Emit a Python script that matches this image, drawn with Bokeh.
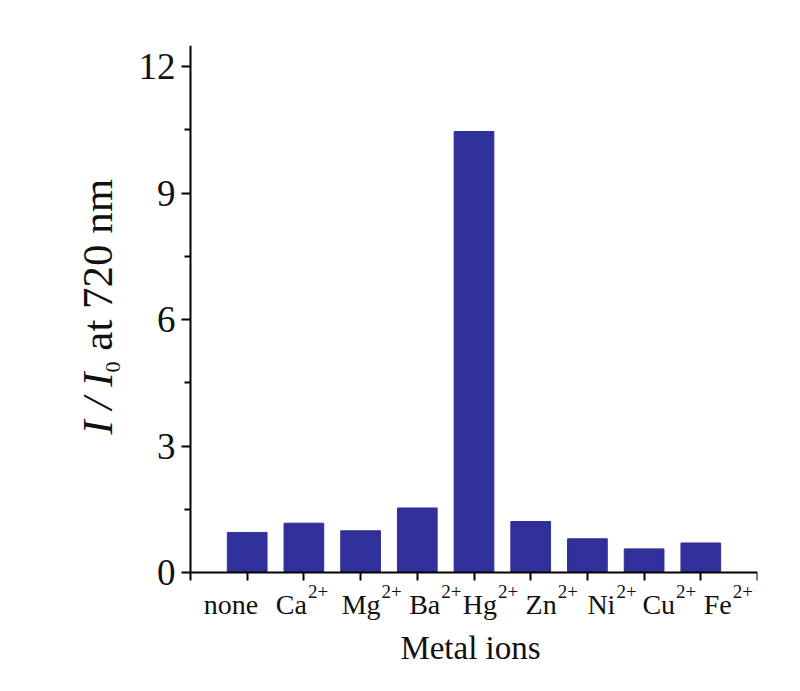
import math
from bokeh.plotting import figure
from bokeh.models import Range1d, FixedTicker, ColumnDataSource
from bokeh.core.properties import value
from bokeh.embed import file_html
from bokeh.resources import INLINE

# ---- data ----
ions = ["none", "Ca", "Mg", "Ba", "Hg", "Zn", "Ni", "Cu", "Fe"]
charges = ["", "2+", "2+", "2+", "2+", "2+", "2+", "2+", "2+"]
ratio = [0.95, 1.17, 0.99, 1.53, 10.46, 1.21, 0.80, 0.56, 0.70]
y_ticks = [0, 3, 6, 9, 12]
y_minor = [1.5, 4.5, 7.5, 10.5]
x_title = "Metal ions"

# ---- layout (pixels on the canvas) ----
W, H = 784, 675
AX_X0, AX_X1 = 190, 757      # pixel of x=0 and x=10
AX_Y0, AX_Y1 = 572, 45       # pixel of y=0 and y=12.5
FR_L, FR_B = 60, 671         # frame left / bottom
XMAX, YMAX = 10, 12.5
PXX = (AX_X1 - AX_X0) / XMAX
PXY = (AX_Y0 - AX_Y1) / YMAX


def dx(px):
    return (px - AX_X0) / PXX


def dy(px):
    return (AX_Y0 - px) / PXY


FONT = "Liberation Serif"
BAR = "#30309a"
TXT = "#111111"

p = figure(width=W, height=H, output_backend="svg", toolbar_location=None,
           x_range=Range1d(dx(FR_L), XMAX), y_range=Range1d(dy(FR_B), YMAX),
           min_border_left=FR_L, min_border_right=W - AX_X1,
           min_border_top=AX_Y1, min_border_bottom=H - FR_B)
p.outline_line_color = None
p.grid.visible = False
p.background_fill_color = "white"
p.border_fill_color = "white"

xs = list(range(1, len(ions) + 1))
p.vbar(x=xs, top=ratio, bottom=0, width=0.7, fill_color=BAR, line_color=BAR)

# x axis, pinned at y = 0
xa = p.xaxis[0]
xa.fixed_location = 0
xa.bounds = (0, XMAX)
xa.ticker = FixedTicker(ticks=list(range(0, XMAX + 1)), minor_ticks=[])
xa.major_label_text_font_size = "0px"
xa.major_label_standoff = 0
xa.major_tick_out = 8
xa.major_tick_in = 0
xa.minor_tick_out = 0
xa.minor_tick_in = 0
xa.axis_line_width = 2
xa.major_tick_line_width = 2

# y axis, pinned at x = 0
ya = p.yaxis[0]
ya.fixed_location = 0
ya.bounds = (0, YMAX)
ya.ticker = FixedTicker(ticks=y_ticks, minor_ticks=y_minor)
ya.major_label_text_font = FONT
ya.major_label_text_font_size = "37px"
ya.major_label_text_color = TXT
ya.major_label_standoff = 6
ya.major_tick_out = 9
ya.major_tick_in = 0
ya.minor_tick_out = 6
ya.minor_tick_in = 0
ya.axis_line_width = 2
ya.major_tick_line_width = 2
ya.minor_tick_line_width = 2

# x category labels (base + superscript), anchor offsets in px from bar center
label_dx = [11, 3, 20, 23, 23, 26, 28, 31, 31]
anchors = [xs[i] + label_dx[i] / PXX for i in range(len(ions))]
base_src = ColumnDataSource(dict(x=anchors, y=[dy(604)] * len(ions), t=ions))
p.text(x="x", y="y", text="t", source=base_src, text_align="right",
       text_baseline="alphabetic", text_font=value(FONT),
       text_font_size="28px", text_color=TXT)
sup_idx = [i for i, c in enumerate(charges) if c]
sup_src = ColumnDataSource(dict(x=[anchors[i] + 1 / PXX for i in sup_idx],
                                y=[dy(591)] * len(sup_idx),
                                t=[charges[i] for i in sup_idx]))
p.text(x="x", y="y", text="t", source=sup_src, text_align="left",
       text_baseline="alphabetic", text_font=value(FONT),
       text_font_size="19px", text_color=TXT)

# x title
p.text(x=[dx(470)], y=[dy(647)], text=[x_title], text_align="center",
       text_baseline="alphabetic", text_font=value(FONT),
       text_font_size="33px", text_color=TXT)

# y title: "I / I0 at 720 nm", rotated, built from pieces
YL_FS = 43
SUB_FS = 22
ang = math.pi / 2
start = 434
w1 = 1.444 * YL_FS
w2 = 0.5 * SUB_FS + 0.25 * YL_FS
p.text(x=[dx(97)], y=[dy(start)], text=["I / I"], angle=ang,
       text_align="left", text_baseline="alphabetic", text_font=value(FONT),
       text_font_style="italic", text_font_size=f"{YL_FS}px", text_color=TXT)
p.text(x=[dx(112)], y=[dy(start - w1)], text=["0"], angle=ang,
       text_align="left", text_baseline="alphabetic", text_font=value(FONT),
       text_font_size=f"{SUB_FS}px", text_color=TXT)
p.text(x=[dx(97)], y=[dy(start - w1 - w2)], text=["at 720 nm"], angle=ang,
       text_align="left", text_baseline="alphabetic", text_font=value(FONT),
       text_font_size=f"{YL_FS}px", text_color=TXT)

open("out.html", "w").write(file_html(p, INLINE))
